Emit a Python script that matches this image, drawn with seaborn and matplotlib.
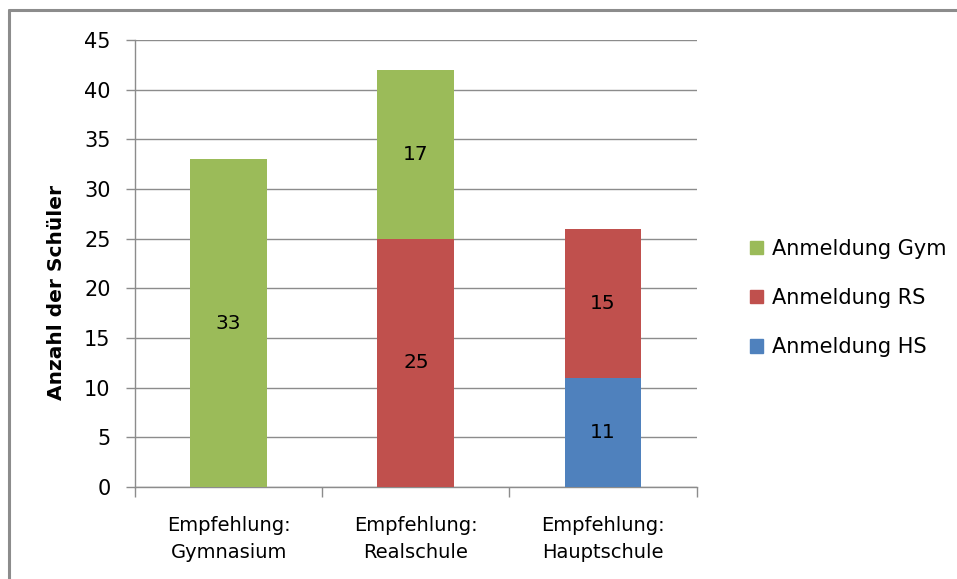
import matplotlib
matplotlib.use("Agg")
import matplotlib.pyplot as plt
from matplotlib.lines import Line2D
from matplotlib.patches import Patch
import seaborn as sns
import pandas as pd

categories = ["Empfehlung:\nGymnasium", "Empfehlung:\nRealschule", "Empfehlung:\nHauptschule"]
anmeldung_hs = [0, 0, 11]
anmeldung_rs = [0, 25, 15]
anmeldung_gym = [33, 17, 0]
series_names = ["Anmeldung HS", "Anmeldung RS", "Anmeldung Gym"]
colors = {"Anmeldung HS": "#4F81BD", "Anmeldung RS": "#C0504D", "Anmeldung Gym": "#9BBB59"}
y_ticks = [0, 5, 10, 15, 20, 25, 30, 35, 40, 45]

sns.set_theme(style="white")
plt.rcParams["font.family"] = ["DejaVu Sans"]
plt.rcParams["text.color"] = "black"
plt.rcParams["xtick.color"] = "black"
plt.rcParams["ytick.color"] = "black"
plt.rcParams["axes.labelcolor"] = "black"

fig = plt.figure(figsize=(9.57, 5.79), dpi=100)
ax = fig.add_axes([0.141, 0.159, 0.587, 0.772])

df = pd.DataFrame({"cat": categories, "Anmeldung HS": anmeldung_hs,
                   "Anmeldung RS": anmeldung_rs, "Anmeldung Gym": anmeldung_gym})

bottom = [0, 0, 0]
for name in series_names:
    vals = df[name].tolist()
    sns.barplot(data=df, x="cat", y=name, color=colors[name], bottom=bottom,
                width=0.41, saturation=1, ax=ax, zorder=3, linewidth=0)
    for i, v in enumerate(vals):
        if v > 0:
            ax.text(i, bottom[i] + v / 2, str(v), ha="center", va="center",
                    fontsize=14.5, color="black", zorder=4)
    bottom = [b + v for b, v in zip(bottom, vals)]

ax.set_ylim(0, 45)
ax.set_xlim(-0.5, 2.5)
ax.set_yticks(y_ticks)
ax.yaxis.grid(True, color="#8C8C8C", linewidth=1, zorder=0)
ax.set_axisbelow(True)
for s in ["top", "right"]:
    ax.spines[s].set_visible(False)
for s in ["left", "bottom"]:
    ax.spines[s].set_color("#8C8C8C")
    ax.spines[s].set_linewidth(1)

ax.set_xticks([-0.5, 0.5, 1.5, 2.5], minor=True)
ax.tick_params(axis="x", which="minor", length=7, color="#8C8C8C", width=1, direction="out", bottom=True)
ax.tick_params(axis="x", which="major", length=0, pad=21, labelsize=14)
for lbl in ax.get_xticklabels():
    lbl.set_linespacing(1.55)
ax.tick_params(axis="y", length=6.5, color="#8C8C8C", width=1, direction="out", left=True, labelsize=15, pad=11)
ax.set_xlabel("")
ax.set_ylabel("Anzahl der Schüler", fontsize=14.5, fontweight="bold")
ax.yaxis.set_label_coords(-0.122, 0.436)

handles = [Patch(color=colors[n]) for n in reversed(series_names)]
fig.legend(handles, list(reversed(series_names)), loc="center left",
           bbox_to_anchor=(0.773, 0.485), frameon=False, fontsize=15, borderpad=0,
           handlelength=0.6, handleheight=0.6, handletextpad=0.45, labelspacing=1.4)

# chart-area frame: top and left edges
fig.add_artist(Line2D([0.0095, 1.0], [0.9825, 0.9825], transform=fig.transFigure,
                      color="#8C8C8C", linewidth=2.2))
fig.add_artist(Line2D([0.0095, 0.0095], [0.0, 0.9825], transform=fig.transFigure,
                      color="#8C8C8C", linewidth=2.2))

fig.savefig("out.png", dpi=100)
